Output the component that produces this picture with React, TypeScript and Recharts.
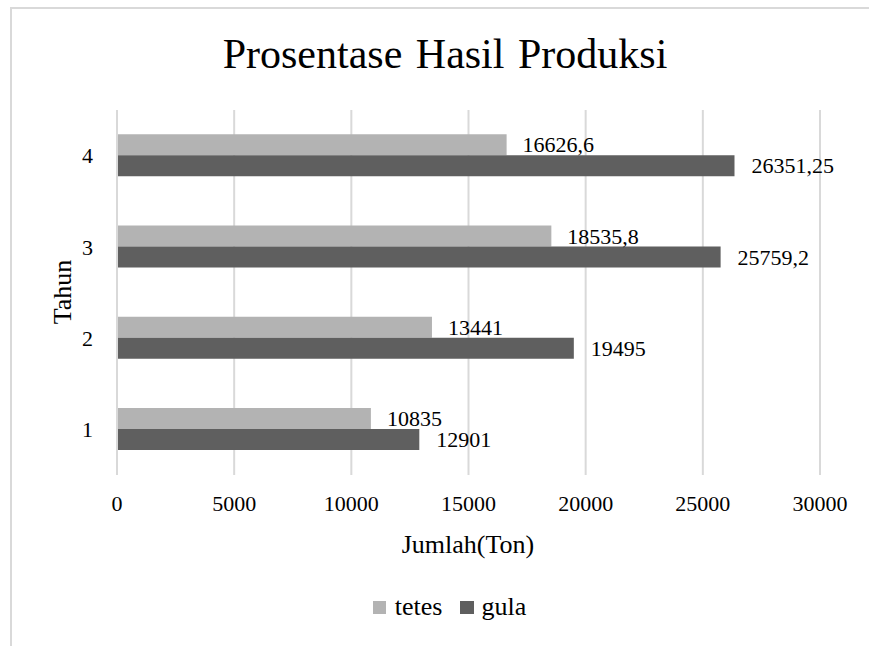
import React from 'react';
import { BarChart, Bar, XAxis, YAxis, CartesianGrid, Legend, LabelList } from 'recharts';

const categories = ['1', '2', '3', '4'];
const tetesValues = [10835, 13441, 18535.8, 16626.6];
const gulaValues = [12901, 19495, 25759.2, 26351.25];
const xTicks = [0, 5000, 10000, 15000, 20000, 25000, 30000];

const data = categories.map((c, i) => ({ tahun: c, tetes: tetesValues[i], gula: gulaValues[i] }));

const FONT = "'Liberation Serif', 'Times New Roman', serif";
const LIGHT = '#b3b3b3';
const DARK = '#5f5f5f';

const fmt = (v: any) => String(v).replace('.', ',');

const textStyle: React.CSSProperties = { fontFamily: FONT, fontSize: 26, color: '#000', lineHeight: '30px' };

const LegendContent = () => (
  <div style={{ display: 'flex', justifyContent: 'center', alignItems: 'center', paddingLeft: 30, height: 30, fontFamily: FONT }}>
    <span style={{ display: 'inline-block', width: 13, height: 13, background: LIGHT, marginRight: 9 }} />
    <span style={{ ...textStyle, marginRight: 18 }}>tetes</span>
    <span style={{ display: 'inline-block', width: 14, height: 13, background: DARK, marginRight: 7 }} />
    <span style={textStyle}>gula</span>
  </div>
);

export default function App() {
  return (
    <div style={{ position: 'absolute', left: 0, top: 0, width: 869, height: 646, background: '#fff', fontFamily: FONT }}>
      <div style={{ position: 'absolute', left: 10, top: 7, width: 880, height: 660, borderLeft: '2px solid #d9d9d9', borderTop: '2px solid #d9d9d9' }} />
      <BarChart
        width={869}
        height={646}
        data={data}
        layout="vertical"
        margin={{ top: 110, right: 49, left: 10, bottom: 81 }}
        barCategoryGap="26.5%"
        barGap={0}
        style={{ fontFamily: FONT }}
      >
        <text x={445} y={68} textAnchor="middle" fontFamily={FONT} fontSize={42} fill="#000" style={{ wordSpacing: 3 }}>Prosentase Hasil Produksi</text>
        <text x={468} y={553} textAnchor="middle" fontFamily={FONT} fontSize={26} fill="#000">Jumlah(Ton)</text>
        <text x={71} y={292} textAnchor="middle" fontFamily={FONT} fontSize={26} fill="#000" transform="rotate(-90 71 292)">Tahun</text>
        <CartesianGrid horizontal={false} stroke="#d9d9d9" strokeWidth={2} />
        <XAxis
          type="number"
          domain={[0, 30000]}
          ticks={xTicks}
          height={60}
          axisLine={false}
          tickLine={false}
          tickSize={6}
          tickMargin={14}
          tick={{ fontFamily: FONT, fontSize: 22, fill: '#000' }}
          interval={0}
        />
        <YAxis
          type="category"
          dataKey="tahun"
          reversed
          width={107}
          axisLine={{ stroke: '#d9d9d9', strokeWidth: 2 }}
          tickLine={false}
          tickSize={6}
          tickMargin={18}
          tick={{ fontFamily: FONT, fontSize: 22, fill: '#000' }}
        />
        <Legend verticalAlign="bottom" content={<LegendContent />} wrapperStyle={{ left: 0, top: 592, width: 869, height: 30 }} />
        <Bar dataKey="tetes" name="tetes" fill={LIGHT} isAnimationActive={false}>
          <LabelList dataKey="tetes" position="right" offset={16} formatter={fmt} style={{ fontFamily: FONT, fontSize: 22, fill: '#000' }} />
        </Bar>
        <Bar dataKey="gula" name="gula" fill={DARK} isAnimationActive={false}>
          <LabelList dataKey="gula" position="right" offset={17} formatter={fmt} style={{ fontFamily: FONT, fontSize: 22, fill: '#000' }} />
        </Bar>
      </BarChart>
    </div>
  );
}
